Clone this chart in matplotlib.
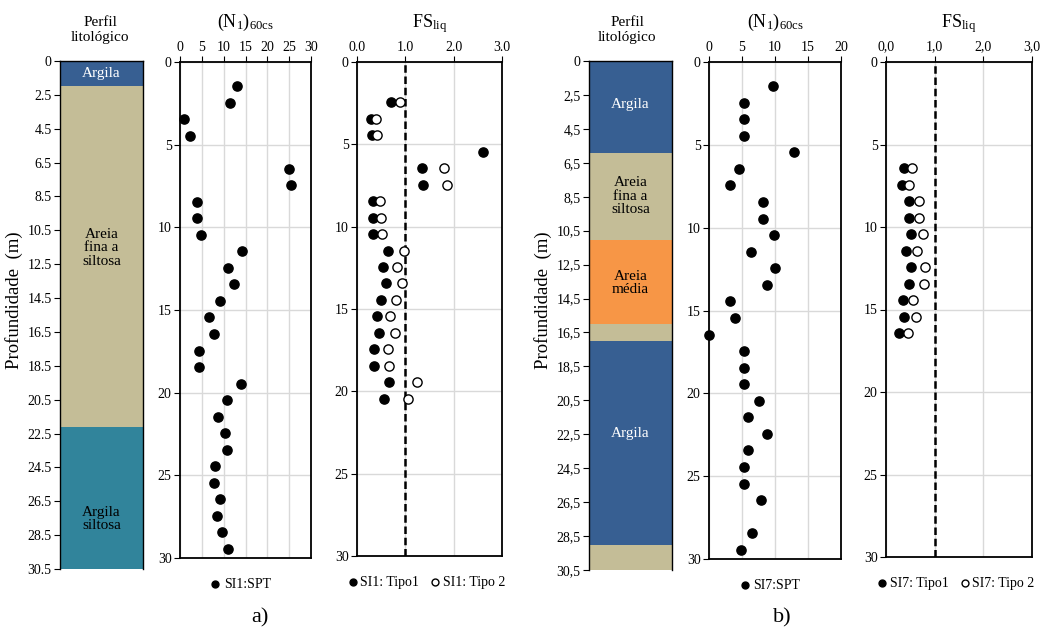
import matplotlib
matplotlib.use("Agg")
import matplotlib.pyplot as plt
import numpy as np

plt.rcParams['font.family'] = ['Liberation Serif', 'DejaVu Serif']
plt.rcParams['mathtext.default'] = 'regular'

# ---- perfil litologico ----
lito_a_top = [0, 1.5, 22]
lito_a_bot = [1.5, 22, 30.5]
lito_a_nome = ["Argila", "Areia\nfina a\nsiltosa", "Argila\nsiltosa"]
lito_a_txt_prof = [0.75, 11.2, 27.5]
lito_a_cor = ["#375F92", "#C4BD97", "#31849B"]
lito_a_txtcor = ["white", "black", "black"]

lito_b_top = [0, 5.5, 10.7, 15.75, 16.75, 29]
lito_b_bot = [5.5, 10.7, 15.75, 16.75, 29, 30.5]
lito_b_nome = ["Argila", "Areia\nfina a\nsiltosa", "Areia\nmédia", "", "Argila", ""]
lito_b_txt_prof = [2.6, 8.1, 13.3, 16.25, 22.3, 29.75]
lito_b_cor = ["#375F92", "#C4BD97", "#F79646", "#C4BD97", "#375F92", "#C4BD97"]
lito_b_txtcor = ["white", "black", "black", "black", "white", "black"]

lito_a_ticks = ["0", "2.5", "4.5", "6.5", "8.5", "10.5", "12.5", "14.5", "16.5",
                "18.5", "20.5", "22.5", "24.5", "26.5", "28.5", "30.5"]
lito_b_ticks = [t.replace(".", ",") for t in lito_a_ticks]

# ---- (N1)60cs ----
n_a_prof = [1.45, 2.45, 3.45, 4.45, 6.45, 7.45, 8.45, 9.45, 10.45, 11.45, 12.45, 13.45,
            14.45, 15.45, 16.45, 17.45, 18.45, 19.45, 20.45, 21.45, 22.45, 23.45, 24.45,
            25.45, 26.45, 27.45, 28.45, 29.45]
n_a = [13.0, 11.4, 1.0, 2.2, 25.0, 25.5, 4.0, 4.0, 4.9, 14.3, 10.9, 12.4, 9.2, 6.6,
       7.7, 4.35, 4.35, 14.0, 10.75, 8.7, 10.2, 10.7, 8.0, 7.7, 9.2, 8.5, 9.6, 10.9]

n_b_prof = [1.45, 2.45, 3.45, 4.45, 5.45, 6.45, 7.45, 8.45, 9.45, 10.45, 11.45, 12.45,
            13.45, 14.45, 15.45, 16.45, 17.45, 18.45, 19.45, 20.45, 21.45, 22.45, 23.45,
            24.45, 25.45, 26.45, 28.45, 29.45]
n_b = [9.67, 5.27, 5.27, 5.27, 12.9, 4.56, 3.14, 8.2, 8.2, 9.87, 6.43, 10.02, 8.76, 3.24,
       4.0, 0.0, 5.27, 5.27, 5.27, 7.54, 5.97, 8.86, 5.97, 5.27, 5.27, 7.9, 6.58, 4.81]

# ---- FS liq ----
fs_a_prof = [2.45, 3.45, 4.45, 5.45, 6.45, 7.45, 8.45, 9.45, 10.45, 11.45, 12.45, 13.45,
             14.45, 15.45, 16.45, 17.45, 18.45, 19.45, 20.45]
fs_a_tipo1 = [0.71, 0.29, 0.30, 2.61, 1.34, 1.37, 0.33, 0.33, 0.34, 0.65, 0.53, 0.59,
              0.50, 0.41, 0.46, 0.36, 0.36, 0.67, 0.56]
fs_a_tipo2 = [0.89, 0.40, 0.41, np.nan, 1.79, 1.87, 0.48, 0.50, 0.52, 0.98, 0.82, 0.93,
              0.81, 0.69, 0.78, 0.65, 0.67, 1.24, 1.06]

fs_b_prof = [6.45, 7.45, 8.45, 9.45, 10.45, 11.45, 12.45, 13.45, 14.45, 15.45, 16.45]
fs_b_tipo1 = [0.38, 0.33, 0.48, 0.48, 0.52, 0.41, 0.51, 0.47, 0.34, 0.37, 0.26]
fs_b_tipo2 = [0.53, 0.48, 0.67, 0.67, 0.75, 0.63, 0.81, 0.78, 0.56, 0.61, 0.45]

W, H = 1046, 632
fig = plt.figure(figsize=(W / 100, H / 100), dpi=100)


def px_axes(x0, x1, y0, y1):
    return fig.add_axes([x0 / W, 1 - y1 / H, (x1 - x0) / W, (y1 - y0) / H])


def lito(x0, x1, y0, y1, top, bot, nome, prof, cor, txtcor, ticks, xc):
    ax = px_axes(x0, x1, y0, y1)
    for t, b, c in zip(top, bot, cor):
        ax.bar(0, b - t, bottom=t, width=1, color=c, edgecolor='none')
    for n, p, tc in zip(nome, prof, txtcor):
        if n:
            ax.text(0, p, n, ha='center', va='center', color=tc, fontsize=11,
                    linespacing=1.05)
    ax.set_xlim(-0.5, 0.5)
    ax.set_ylim(30.5, 0)
    ax.set_yticks(np.linspace(0, 30.5, len(ticks)))
    ax.set_yticklabels(ticks)
    ax.set_xticks([])
    ax.tick_params(axis='y', direction='out', length=4, labelsize=10, pad=2)
    for s in ['left', 'right', 'top']:
        ax.spines[s].set_linewidth(1.0)
        ax.spines[s].set_color('black')
    ax.spines['bottom'].set_visible(False)
    fig.text(xc / W, 1 - 30 / H, "Perfil\nlitológico", ha='center', va='center',
             fontsize=11, linespacing=1.1)
    fig.text((x0 - 46) / W, 1 - 300 / H, "Profundidade  (m)", rotation=90,
             ha='center', va='center', fontsize=13.5)
    return ax


def base(ax, xmax, xstep, xlabels, title, ty):
    ax.set_xlim(0, xmax)
    ax.set_ylim(30, 0)
    ax.set_xticks(np.arange(0, xmax + xstep / 2, xstep))
    if xlabels is not None:
        ax.set_xticklabels(xlabels)
    ax.set_yticks(np.arange(0, 31, 5))
    ax.xaxis.tick_top()
    ax.tick_params(direction='out', length=4, labelsize=10, pad=2)
    ax.grid(True, color='#D9D9D9', linewidth=1)
    ax.set_axisbelow(True)
    for s in ax.spines.values():
        s.set_linewidth(1.3)
        s.set_color('black')
    pos = ax.get_position()
    fig.text(pos.x0 + pos.width / 2, 1 - ty / H, title, ha='center', va='center',
             fontsize=13)


def n_panel(x0, x1, y0, y1, prof, vals, xmax, lab):
    ax = px_axes(x0, x1, y0, y1)
    base(ax, xmax, 5, None, "(N$_1$)$_{60cs}$", 22)
    ax.scatter(vals, prof, s=44, c='black', zorder=3, clip_on=False, label=lab)
    ax.legend(loc='upper center', bbox_to_anchor=(0.45, -0.015), frameon=False,
              fontsize=10, handletextpad=0.0, handlelength=1.2, markerscale=0.75)
    return ax


def fs_panel(x0, x1, y0, y1, prof, t1, t2, xlabels, lab1, lab2):
    ax = px_axes(x0, x1, y0, y1)
    base(ax, 3, 1, xlabels, "FS$_{liq}$", 24)
    ax.axvline(1, color='black', linestyle=(0, (3, 1.5)), linewidth=1.8, zorder=2)
    ax.scatter(t1, prof, s=44, c='black', zorder=3, clip_on=False, label=lab1)
    ax.scatter(t2, prof, s=44, facecolor='white', edgecolor='black', linewidth=1.0,
               zorder=4, clip_on=False, label=lab2)
    ax.legend(loc='upper center', bbox_to_anchor=(0.47, -0.015), frameon=False, ncol=2,
              fontsize=10, handletextpad=0.0, handlelength=1.1, columnspacing=0.6,
              markerscale=0.75)
    return ax


lito(60, 143, 61, 569, lito_a_top, lito_a_bot, lito_a_nome, lito_a_txt_prof,
     lito_a_cor, lito_a_txtcor, lito_a_ticks, 100)
n_panel(180, 311, 62, 558, n_a_prof, n_a, 30, "SI1:SPT")
fs_panel(357, 502, 62, 556, fs_a_prof, fs_a_tipo1, fs_a_tipo2,
         ["0.0", "1.0", "2.0", "3.0"], "SI1: Tipo1", "SI1: Tipo 2")

lito(589, 672, 61, 570, lito_b_top, lito_b_bot, lito_b_nome, lito_b_txt_prof,
     lito_b_cor, lito_b_txtcor, lito_b_ticks, 627)
n_panel(709, 841, 62, 559, n_b_prof, n_b, 20, "SI7:SPT")
fs_panel(886, 1032, 62, 557, fs_b_prof, fs_b_tipo1, fs_b_tipo2,
         ["0,0", "1,0", "2,0", "3,0"], "SI7: Tipo1", "SI7: Tipo 2")

fig.text(260 / W, 1 - 618 / H, "a)", ha='center', va='center', fontsize=16)
fig.text(782 / W, 1 - 618 / H, "b)", ha='center', va='center', fontsize=16)

fig.savefig("out.png", dpi=100)
